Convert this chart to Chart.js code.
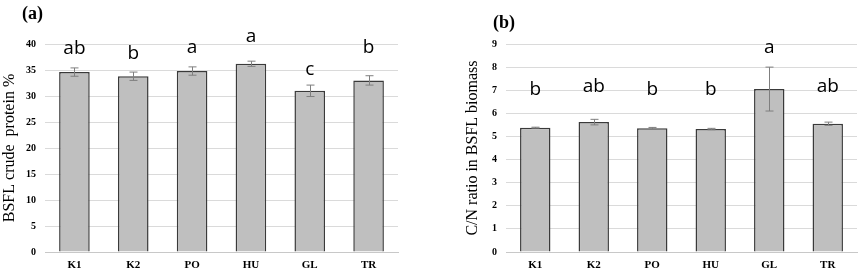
<!DOCTYPE html>
<html>
<head>
<meta charset="utf-8">
<script src="https://cdn.jsdelivr.net/npm/chart.js@4"></script>
<style>
  html, body { margin: 0; padding: 0; background: #fff; }
  #wrap { position: relative; width: 858px; height: 271px; }
  .box { position: absolute; top: 0; height: 271px; }
</style>
</head>
<body>
<div id="wrap">
  <div class="box" style="left:0;width:430px"><canvas id="chartA"></canvas></div>
  <div class="box" style="left:430px;width:428px"><canvas id="chartB"></canvas></div>
</div>
<script>
// treatments
const groups = ["K1", "K2", "PO", "HU", "GL", "TR"];

// (a) crude protein %
const proteinMean = [34.6, 33.8, 34.8, 36.2, 31.0, 33.0];
const proteinErr = [0.8, 0.8, 0.8, 0.5, 1.1, 0.9];
const proteinLetters = ["ab", "b", "a", "a", "c", "b"];
const proteinLetterAt = [38.0, 37.2, 38.2, 40.4, 34.1, 38.3];

// (b) C/N ratio
const cnMean = [5.38, 5.62, 5.35, 5.32, 7.05, 5.55];
const cnErr = [0.02, 0.12, 0.04, 0.03, 0.95, 0.07];
const cnLetters = ["b", "ab", "b", "b", "a", "ab"];
const cnLetterAt = [6.79, 6.94, 6.79, 6.79, 8.6, 6.94];

// error bars + significance letters + panel tag
const extras = {
  id: "extras",
  afterDatasetsDraw(chart, args, opts) {
    const ctx = chart.ctx;
    const meta = chart.getDatasetMeta(0);
    const y = chart.scales.y;
    ctx.save();
    ctx.strokeStyle = "#7f7f7f";
    ctx.lineWidth = 1;
    meta.data.forEach((bar, i) => {
      const m = opts.means[i], e = opts.errs[i];
      const x = Math.round(bar.x) + 0.5;
      const y1 = y.getPixelForValue(m + e), y2 = y.getPixelForValue(m - e);
      ctx.beginPath();
      ctx.moveTo(x, y1); ctx.lineTo(x, y2);
      ctx.moveTo(x - 4, y1); ctx.lineTo(x + 4, y1);
      ctx.moveTo(x - 4, y2); ctx.lineTo(x + 4, y2);
      ctx.stroke();
    });
    ctx.fillStyle = "#000";
    ctx.font = "19px 'Open Sans', sans-serif";
    ctx.textAlign = "center";
    ctx.textBaseline = "alphabetic";
    meta.data.forEach((bar, i) => {
      ctx.fillText(opts.letters[i], bar.x, y.getPixelForValue(opts.letterAt[i]));
    });
    ctx.font = "bold 18px 'Liberation Serif', 'Times New Roman', serif";
    ctx.textAlign = "left";
    ctx.textBaseline = "middle";
    ctx.fillText(opts.tag, opts.tagX, opts.tagY);
    ctx.restore();
  }
};

function makeChart(id, means, errs, letters, letterAt, yMax, yStep, yTitle, titlePad, axisW, padRight, tag, tagX, tagY) {
  return new Chart(document.getElementById(id), {
    type: "bar",
    data: {
      labels: groups,
      datasets: [{
        data: means,
        backgroundColor: "#bfbfbf",
        borderColor: "#3a3a3a",
        borderWidth: 1.5,
        categoryPercentage: 1,
        barPercentage: 0.52
      }]
    },
    options: {
      responsive: true,
      maintainAspectRatio: false,
      animation: false,
      layout: { padding: { top: 44, right: padRight, left: 0, bottom: 0 } },
      plugins: {
        legend: { display: false },
        tooltip: { enabled: false },
        extras: { means, errs, letters, letterAt, tag, tagX, tagY }
      },
      scales: {
        x: {
          grid: { display: false, drawTicks: false },
          border: { color: "#c8c8c8", width: 1 },
          ticks: { color: "#000", padding: 7, font: { family: "'Liberation Serif', serif", weight: "bold", size: 11 } },
          afterFit: (s) => { s.height = 19; }
        },
        y: {
          min: 0, max: yMax,
          grid: { color: "#dadada", drawTicks: false },
          border: { display: false },
          ticks: { stepSize: yStep, color: "#000", padding: 9, font: { family: "'Liberation Serif', serif", weight: "bold", size: 10 } },
          title: { display: true, text: yTitle, color: "#000", padding: { top: titlePad, bottom: 0 }, font: { family: "'Liberation Serif', serif", size: 16 } },
          afterFit: (s) => { s.width = axisW; }
        }
      }
    },
    plugins: [extras]
  });
}

makeChart("chartA", proteinMean, proteinErr, proteinLetters, proteinLetterAt,
  40, 5, "BSFL crude  protein %", 0, 45, 32, "(a)", 22, 14);
makeChart("chartB", cnMean, cnErr, cnLetters, cnLetterAt,
  9, 1, "C/N ratio in BSFL biomass", 33, 76, 1, "(b)", 63, 23);
</script>
</body>
</html>
